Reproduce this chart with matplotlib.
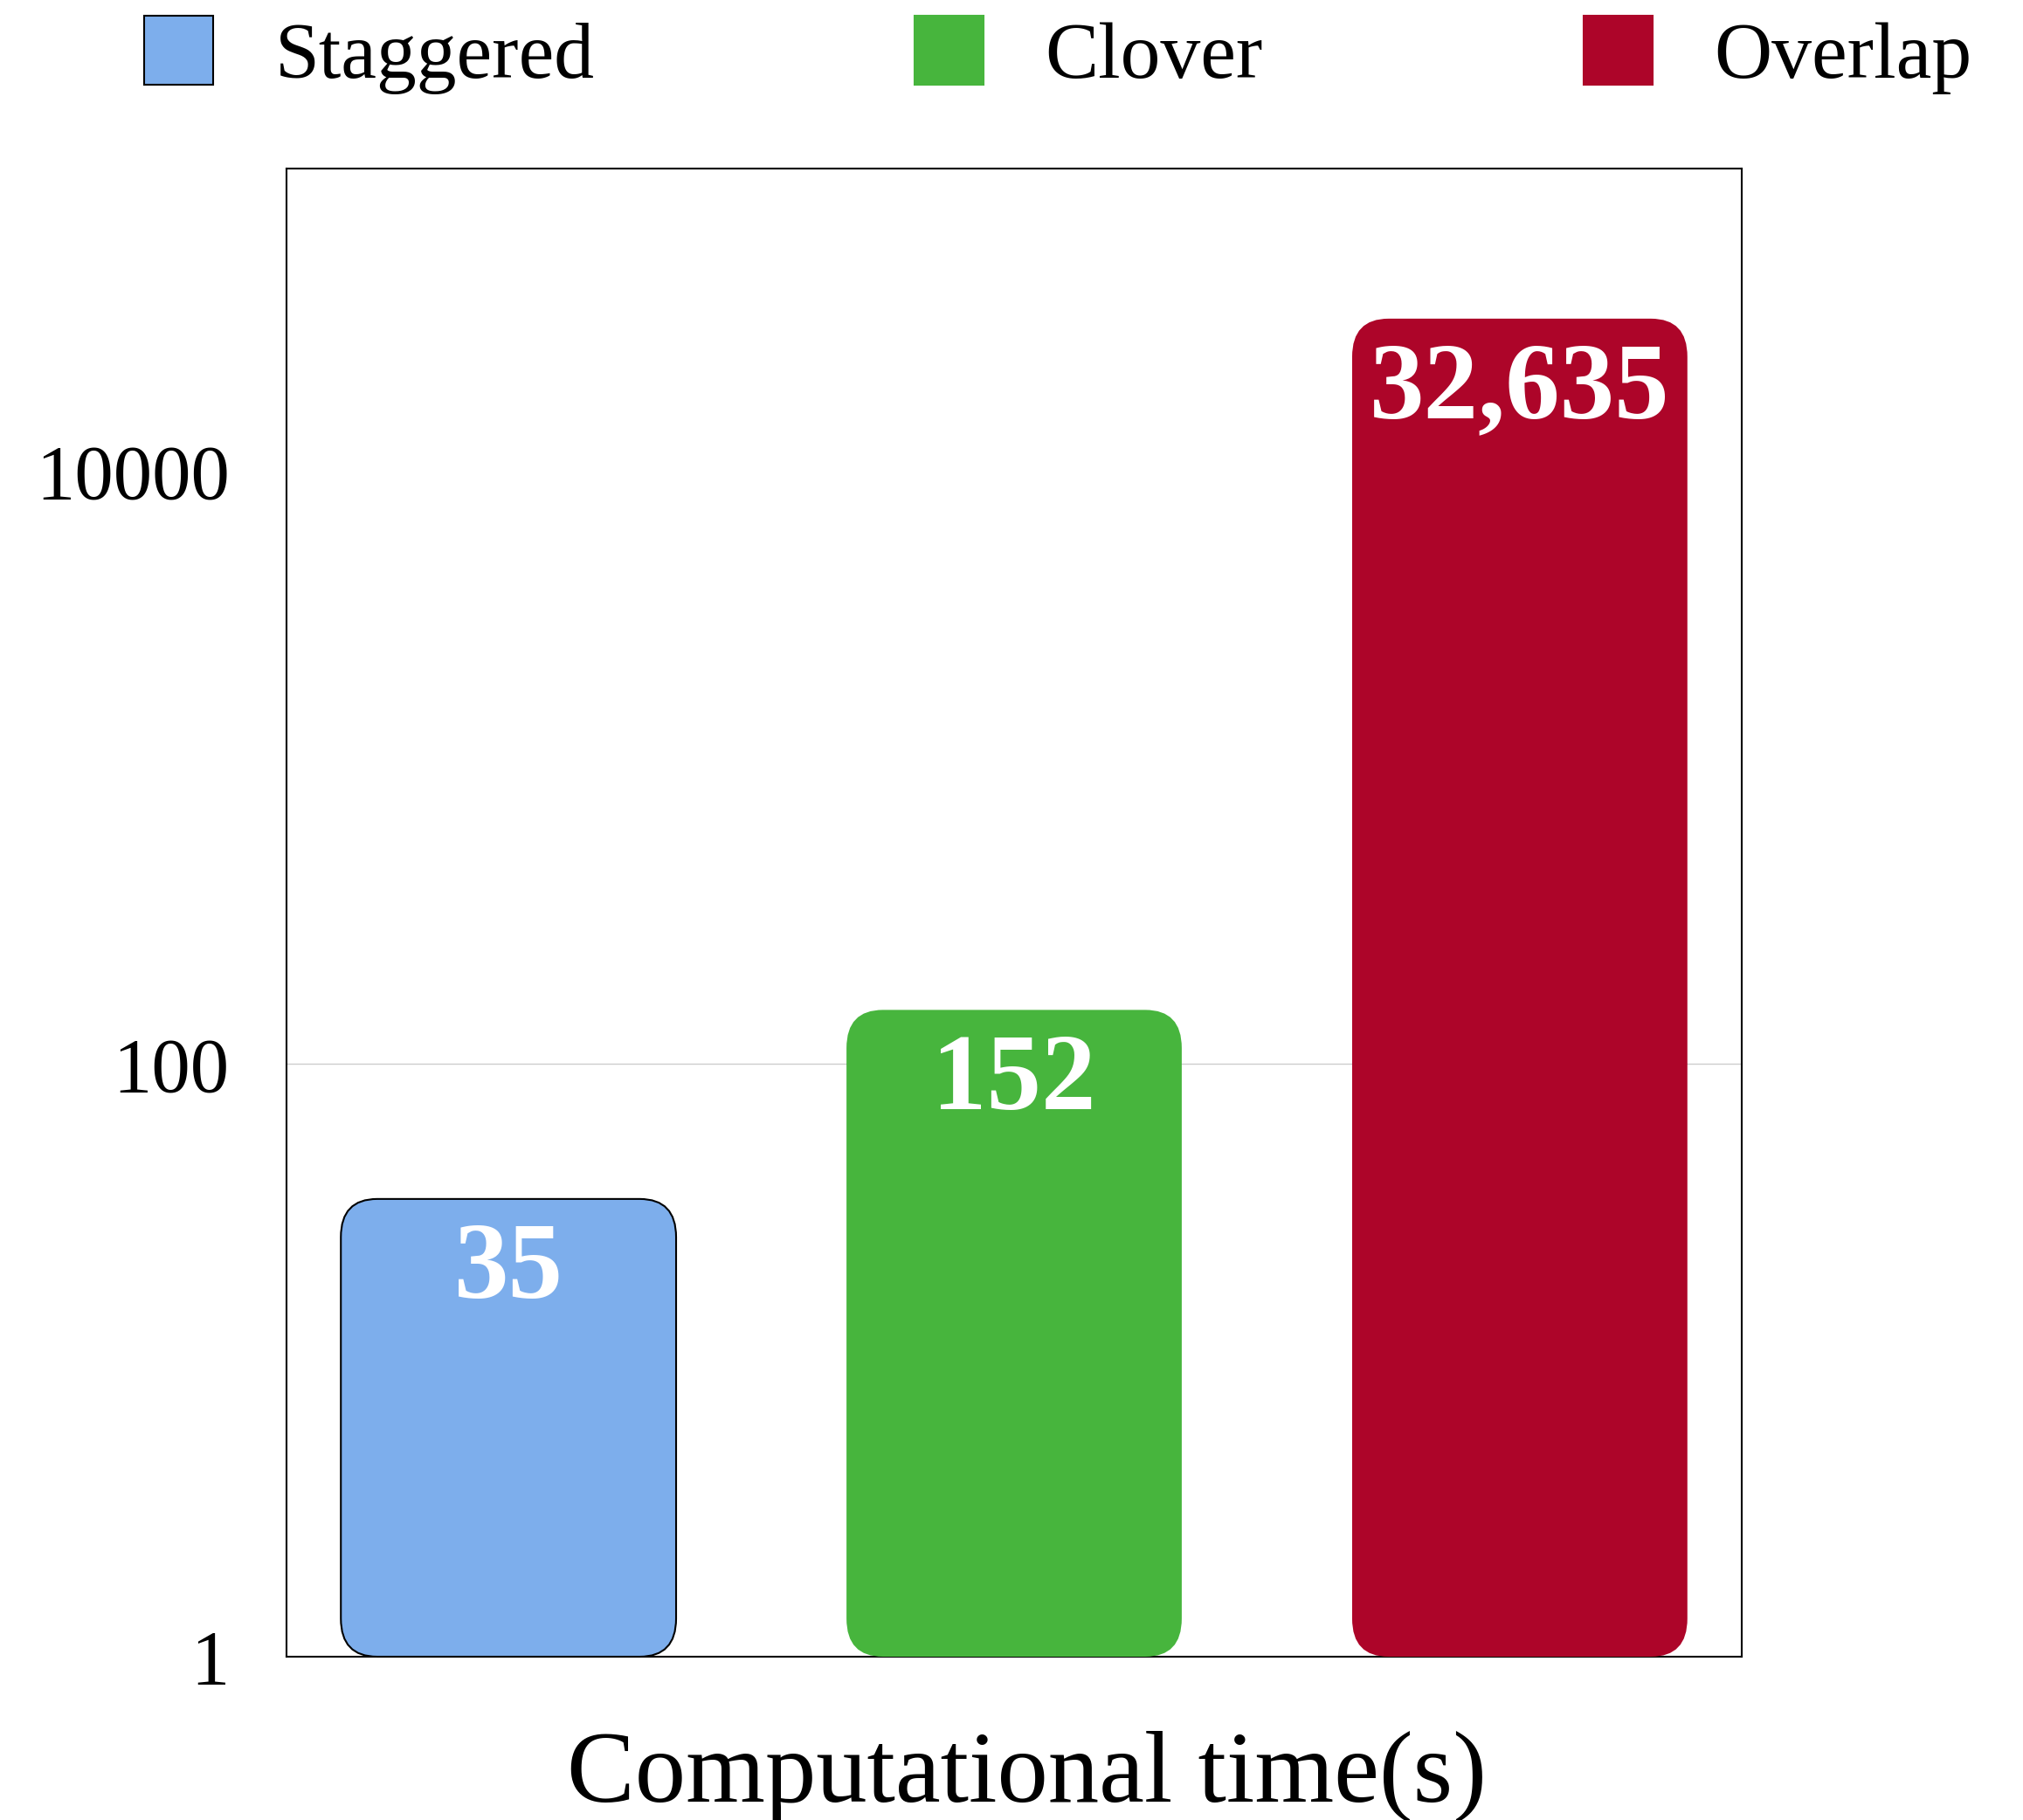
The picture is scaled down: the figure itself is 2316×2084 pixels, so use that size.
import numpy as np
import matplotlib.pyplot as plt
from matplotlib.patches import FancyBboxPatch, Patch

plt.rcParams['font.family'] = ['Liberation Serif', 'DejaVu Serif']

methods = ["Staggered", "Clover", "Overlap"]
times = [35, 152, 32635]
labels = ["35", "152", "32,635"]
colors = ["#7DAEEC", "#47B53D", "#AD0529"]
edges = ["black", "none", "none"]
yticks = [1, 100, 10000]
ytick_labels = ["1", "100", "10000"]

fig = plt.figure(figsize=(23.16, 20.84), dpi=100)
ax = fig.add_axes([328 / 2316, 1 - 1897 / 2084, 1666 / 2316, 1704 / 2084])

x = np.arange(len(methods))
width = 0.663
ax.set_yscale("log")
ax.set_ylim(1, 10 ** 5.02)
ax.set_xlim(-0.439, 2.439)

# invisible bars for geometry, rounded patches drawn on top
bars = ax.bar(x, times, width=width, color="none", edgecolor="none")
to_axes = ax.transData + ax.transAxes.inverted()
aspect = (1666 / 1704)
pad = 0.025
for rect, c, ec, lab, v in zip(bars, colors, edges, labels, times):
    (x0, y0), (x1, y1) = to_axes.transform([(rect.get_x(), 1), (rect.get_x() + rect.get_width(), v)])
    box = FancyBboxPatch((x0 + pad, y0 + pad / aspect), (x1 - x0) - 2 * pad, (y1 - y0) - 2 * pad / aspect,
                         boxstyle="round,pad=0.025,rounding_size=0.025", mutation_aspect=1 / aspect,
                         transform=ax.transAxes, facecolor=c, edgecolor=ec,
                         linewidth=1.5, zorder=3, clip_on=False)
    ax.add_patch(box)
    ax.annotate(lab, xy=(rect.get_x() + rect.get_width() / 2, v), xytext=(0, -60),
                textcoords="offset points", ha="center", va="center",
                color="white", fontsize=90, fontweight="bold", zorder=4)

ax.axhline(100, color="#cccccc", lw=1, zorder=0)
ax.set_yticks(yticks)
ax.set_yticklabels(ytick_labels)
ax.minorticks_off()
ax.tick_params(axis="y", length=0, pad=47, labelsize=64)
ax.set_xticks([])
for s in ax.spines.values():
    s.set_linewidth(1.5)
ax.set_xlabel("Computational time(s)", fontsize=84)
ax.xaxis.set_label_coords(0.509, -0.05)
ax.xaxis.label.set_va("top")

handles = [Patch(facecolor=c, edgecolor=("black" if e == "black" else c), linewidth=1.5) for c, e in zip(colors, edges)]
fig.legend(handles, methods, ncol=3, loc="upper center", bbox_to_anchor=(0.523, 1.009),
           frameon=False, fontsize=66, handlelength=0.86, handleheight=0.95,
           handletextpad=0.77, columnspacing=4.0, borderaxespad=0.0)

fig.savefig("out.png", dpi=100)
